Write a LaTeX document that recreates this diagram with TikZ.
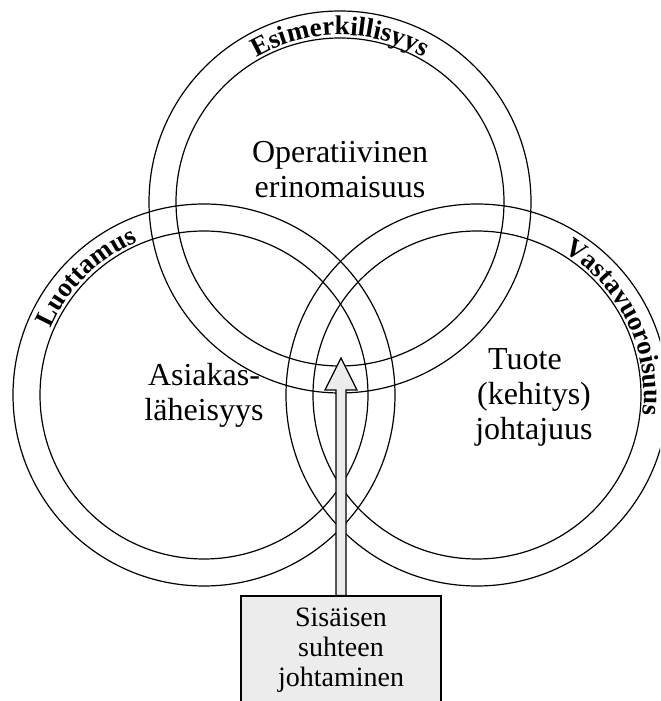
\documentclass[tikz,border=0pt]{standalone}
\usepackage{fontspec}
\setmainfont{Liberation Serif}
\usetikzlibrary{decorations.text}
\definecolor{boxgray}{RGB}{236,236,236}
\tikzstyle{ring} = [draw, line width=0.6pt]
\tikzstyle{area} = [align=center, font=\fontsize{16}{17.5}\selectfont]
\tikzstyle{unit} = [rectangle, draw, fill=boxgray, line width=0.6pt, align=center, minimum width=100pt, minimum height=54pt, font=\fontsize{14}{15}\selectfont]
\tikzstyle{blockarrow} = [draw, fill=boxgray, line width=0.6pt, line join=miter]
\tikzstyle{ringlabel} = [decorate, decoration={text along path, text align=center}]
\newcommand{\ringfont}{\fontsize{13.5}{14}\selectfont\bfseries}

\begin{document}
\begin{tikzpicture}[x=0.5pt, y=0.5pt]
    \clip (0,0) rectangle (660,701);
    \coordinate (top) at (340,499);
    \coordinate (left) at (204,306);
    \coordinate (right) at (477,306);
    % outer and inner circle of each area
    \foreach \c in {top,left,right} {
        \draw[ring] (\c) circle [radius=191];
        \draw[ring] (\c) circle [radius=164];
    }
    % names written along the rings
    \path[ringlabel, decoration={text={|\ringfont|Esimerkillisyys}}]
        ([shift={(140:167)}]top) arc [start angle=140, end angle=40, radius=167];
    \path[ringlabel, decoration={text={|\ringfont|Luottamus}}]
        ([shift={(185:167)}]left) arc [start angle=185, end angle=85, radius=167];
    \path[ringlabel, decoration={text={|\ringfont|Vastavuoroisuus}}]
        ([shift={(81:167)}]right) arc [start angle=81, end angle=-29, radius=167];
    \node[area] (oper) at (340,531) {Operatiivinen\\erinomaisuus};
    \node[area] (asiakas) at (204,306) {Asiakas-\\läheisyys};
    \node[area] (tuote) at (534,304) {Tuote\hspace*{9pt}\\(kehitys)\\johtajuus};
    \node[unit, anchor=north] (inner) at (341,105.5) {Sisäisen\\suhteen\\johtaminen};
    \coordinate (tip) at (341,343);
    \draw[blockarrow] ([xshift=-2.5pt]inner.north) -- ++(0,205.5) -- ++(-11,0) -- (tip)
        -- ++(16,-32) -- ++(-11,0) -- ([xshift=2.5pt]inner.north) -- cycle;
\end{tikzpicture}
\end{document}
